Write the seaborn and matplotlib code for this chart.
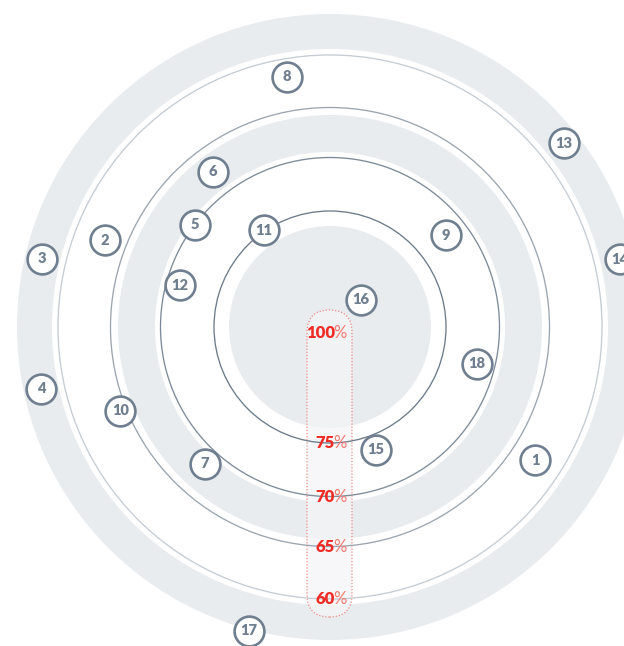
import numpy as np
import pandas as pd
import matplotlib
matplotlib.use("Agg")
import matplotlib.pyplot as plt
import seaborn as sns
from matplotlib.patches import Circle, Wedge, FancyBboxPatch

# ---------------- data ----------------
point_ids = [1, 2, 3, 4, 5, 6, 7, 8, 9, 10, 11, 12, 13, 14, 15, 16, 17, 18]
# bearing in degrees, clockwise from 12 o'clock
point_angles = [123.0, 291.1, 283.3, 257.9, 307.1, 323.0, 222.4, 350.2, 51.6,
                248.2, 325.8, 285.6, 51.8, 76.8, 159.5, 48.9, 194.9, 104.1]
# score in percent
point_values = [62.6, 62.9, 57.7, 57.8, 70.0, 67.5, 68.4, 61.7, 72.0,
                64.4, 74.9, 71.3, 57.6, 57.6, 73.6, 92.0, 56.0, 71.7]

tick_values = [100, 75, 70, 65, 60]
tick_labels = ["100", "75", "70", "65", "60"]

# radial scale: value -> pixel radius (piecewise linear)
scale_domain = [55, 60, 65, 70, 75, 100]
scale_range = [325, 272, 219.5, 169.5, 116, 6]


def radius(v):
    return np.interp(v, scale_domain, scale_range)


# ---------------- styling ----------------
sns.set_theme(style="white")
plt.rcParams["font.family"] = ["Lato", "DejaVu Sans"]

BAND = "#e9ecef"
POINT = "#6f7f8f"
RED = "#ee2b24"
RED_LIGHT = "#f3786f"

fig = plt.figure(figsize=(6.24, 6.46), dpi=100)
ax = fig.add_axes([0, 0, 1, 1])
ax.set_xlim(-330, 294)
ax.set_ylim(-319, 327)
ax.set_aspect("equal")
ax.axis("off")

# background bands
ax.add_patch(Wedge((0, 0), 313, 0, 360, width=313 - 278, facecolor=BAND, lw=0, zorder=1))
ax.add_patch(Wedge((0, 0), 212, 0, 360, width=212 - 175, facecolor=BAND, lw=0, zorder=1))
ax.add_patch(Circle((0, 0), 101, facecolor=BAND, lw=0, zorder=1))

# pill axis
pill_x0, pill_w = -23, 45
pill_top = 17
pill_bot = -290
ax.add_patch(FancyBboxPatch((pill_x0, pill_bot), pill_w, pill_top - pill_bot,
                            boxstyle="round,pad=0,rounding_size=22.5",
                            facecolor="#f4f5f7", alpha=0.7, lw=0, zorder=2))
ax.add_patch(FancyBboxPatch((pill_x0, pill_bot), pill_w, pill_top - pill_bot,
                            boxstyle="round,pad=0,rounding_size=22.5",
                            facecolor="none", edgecolor="#f08a86",
                            lw=0.9, linestyle=(0, (1, 1.5)), zorder=2.5))

# grid circles
line_colors = {75: "#6b7b8b", 70: "#7d8b99", 65: "#9ba5b0", 60: "#c5ccd3"}
for v, c in line_colors.items():
    ax.add_patch(Circle((0, 0), radius(v), fill=False, edgecolor=c, lw=0.95, zorder=3))

# tick labels
for v, lab in zip(tick_values, tick_labels):
    y = -radius(v)
    ax.text(5, y, lab, ha="right", va="center", color=RED, fontsize=12,
            fontweight="heavy", zorder=4)
    ax.text(3.5, y, "%", ha="left", va="center", color=RED_LIGHT, fontsize=12,
            fontweight="normal", zorder=4)

# points
theta = np.deg2rad(point_angles)
r = radius(np.array(point_values))
df = pd.DataFrame({"id": point_ids, "x": r * np.sin(theta), "y": r * np.cos(theta)})
sns.scatterplot(data=df, x="x", y="y", s=460, color="white", edgecolor=POINT,
                linewidth=1.9, zorder=5, ax=ax, legend=False)
for _, row in df.iterrows():
    ax.text(row["x"], row["y"], str(int(row["id"])), ha="center", va="center",
            color=POINT, fontsize=10.5, fontweight="heavy", zorder=6)

ax.set_xlim(-330, 294)
ax.set_ylim(-319, 327)
ax.axis("off")
fig.savefig("out.png", dpi=100)
